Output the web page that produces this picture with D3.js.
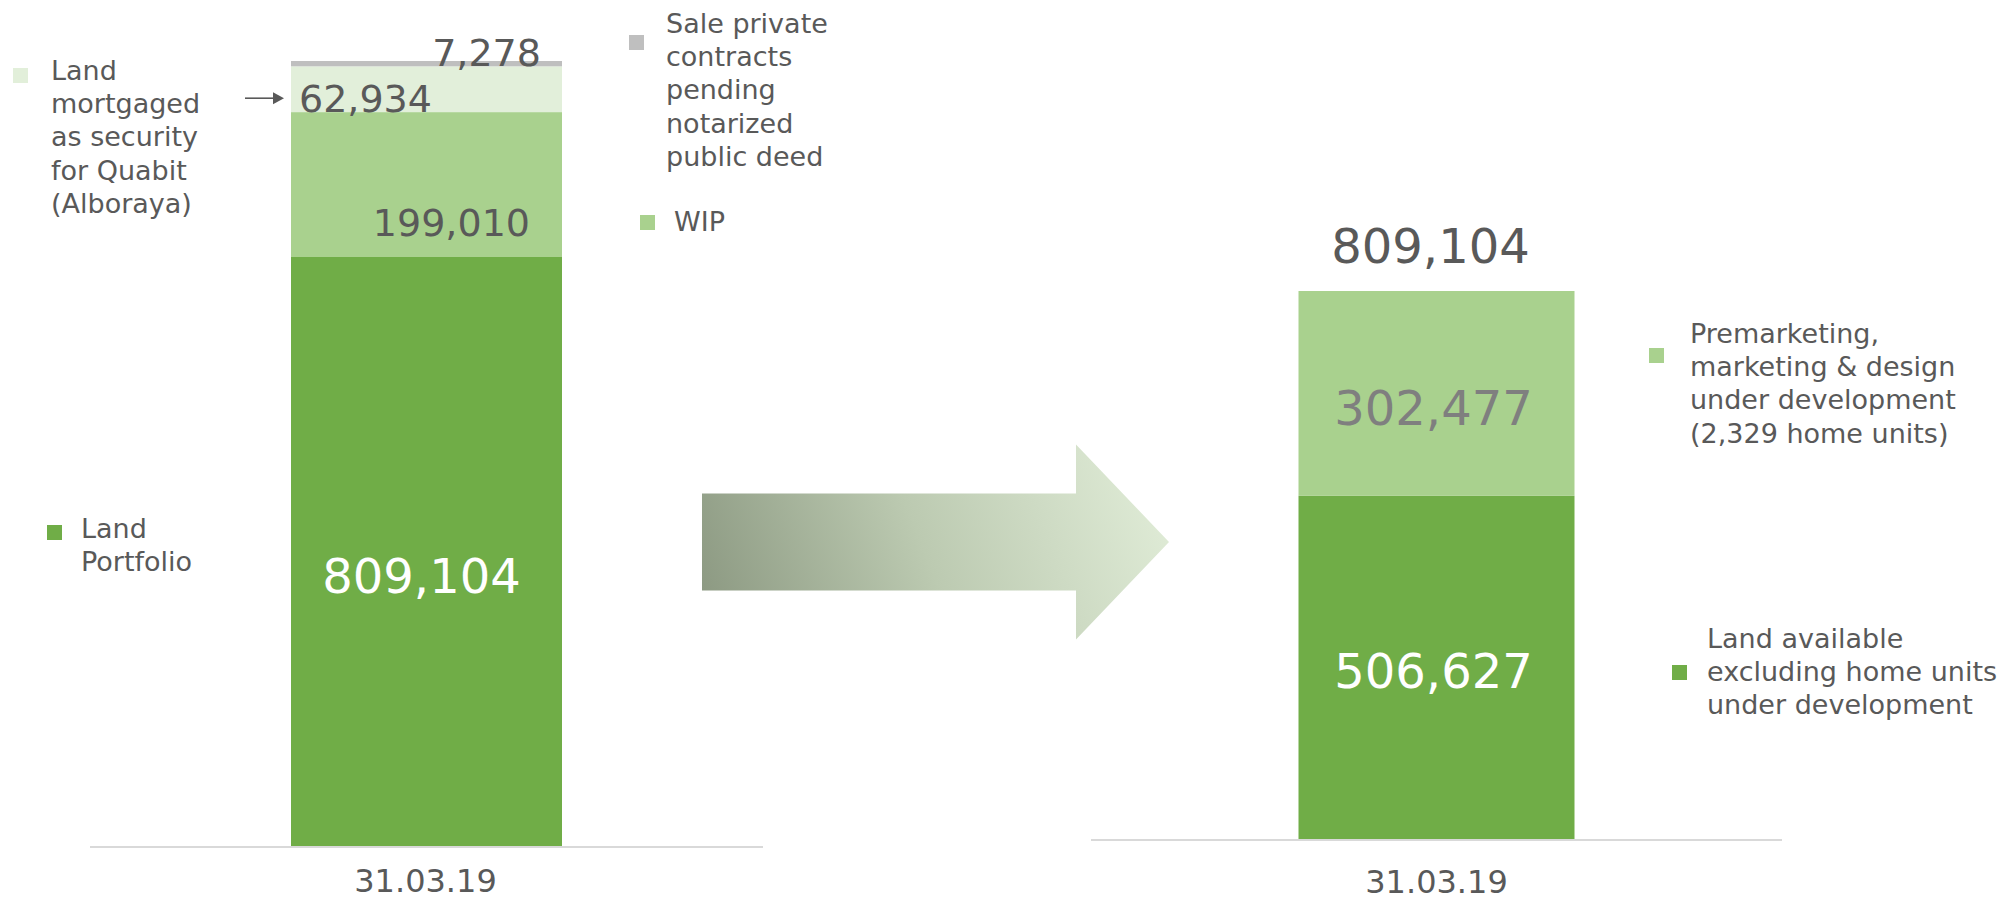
<!DOCTYPE html>
<html>
<head>
<meta charset="utf-8">
<script src="https://cdn.jsdelivr.net/npm/d3@7"></script>
<style>
html,body{margin:0;padding:0;background:#fff;}
svg{display:block;font-family:'DejaVu Sans',Verdana,sans-serif;}
</style>
</head>
<body>
<svg id="chart" width="2013" height="901"></svg>
<script>
(function(){
// left stack: 31.03.19 land bank split
const leftCats=['31.03.19'];
const leftKeys=['portfolio','wip','mortgaged','sale'];
const leftVals=[809104,199010,62934,7278];
const leftLegend=[
  ['Land','Portfolio'],
  ['WIP'],
  ['Land','mortgaged','as security','for Quabit','(Alboraya)'],
  ['Sale private','contracts','pending','notarized','public deed']
];
// right stack: portfolio split by development status
const rightCats=['31.03.19'];
const rightKeys=['available','premarketing'];
const rightVals=[506627,302477];
const rightLegend=[
  ['Land available','excluding home units','under development'],
  ['Premarketing,','marketing & design','under development','(2,329 home units)']
];

const colors={portfolio:'#70ad47',wip:'#a9d18e',mortgaged:'#e2efda',sale:'#bfbfbf',available:'#70ad47',premarketing:'#a9d18e'};
const TXT='#595959';
const fmt=d3.format(',');
const svg=d3.select('#chart');

function stack(keys,vals){
  let acc=0;
  return keys.map((k,i)=>{const d={key:k,v:vals[i],y0:acc,y1:acc+vals[i]};acc+=vals[i];return d;});
}

function drawPanel(o){
  const x=d3.scaleBand().domain(o.cats).range(o.xr).paddingInner(0).paddingOuter(o.pad);
  const total=d3.sum(o.vals);
  const y=d3.scaleLinear().domain([0,total]).range(o.yr);
  const g=svg.append('g');
  const segs=stack(o.keys,o.vals);
  g.selectAll('rect').data(segs).enter().append('rect')
    .attr('x',x(o.cats[0])).attr('width',x.bandwidth())
    .attr('y',d=>y(d.y1)).attr('height',d=>y(d.y0)-y(d.y1))
    .attr('fill',d=>colors[d.key]);
  // baseline
  g.append('line').attr('x1',o.xr[0]).attr('x2',o.xr[1])
    .attr('y1',y(0)+1).attr('y2',y(0)+1).attr('stroke','#d9d9d9').attr('stroke-width',2);
  // category label
  g.append('text').attr('x',x(o.cats[0])+x.bandwidth()/2+o.catDx).attr('y',y(0)+o.catDy)
    .attr('text-anchor','middle').attr('font-size',32).attr('fill',TXT).text(o.cats[0]);
  return {x,y,g,segs,total};
}

// ---- left panel
const L=drawPanel({cats:leftCats,keys:leftKeys,vals:leftVals,xr:[90,763],pad:0.7417,yr:[846,61],catDx:-1,catDy:46});
const lx0=L.x(leftCats[0]),lw=L.x.bandwidth();
const lLab=[
  {k:'portfolio',x:lx0+lw/2-5,dy:42,anchor:'middle',size:48,fill:'#fff'},
  {k:'wip',x:lx0+lw-32,dy:51,anchor:'end',size:38,fill:TXT},
  {k:'mortgaged',x:lx0+8,dy:23,anchor:'start',size:38,fill:TXT},
  {k:'sale',x:lx0+lw-21,dy:2,anchor:'end',size:38,fill:TXT}
];
lLab.forEach(l=>{
  const s=L.segs.find(d=>d.key===l.k);
  L.g.append('text').attr('x',l.x).attr('y',L.y((s.y0+s.y1)/2)+l.dy)
    .attr('text-anchor',l.anchor).attr('font-size',l.size).attr('fill',l.fill).text(fmt(s.v));
});
// pointer arrow to the mortgaged segment
const mSeg=L.segs.find(d=>d.key==='mortgaged');
const ay=L.y((mSeg.y0+mSeg.y1)/2)+9;
L.g.append('line').attr('x1',lx0-46).attr('x2',lx0-16).attr('y1',ay).attr('y2',ay).attr('stroke',TXT).attr('stroke-width',1.6);
L.g.append('path').attr('d',`M${lx0-7},${ay} L${lx0-18},${ay-6} L${lx0-18},${ay+6} Z`).attr('fill',TXT);

// ---- right panel
const R=drawPanel({cats:rightCats,keys:rightKeys,vals:rightVals,xr:[1091,1782],pad:0.7518,yr:[839,291],catDx:0,catDy:54});
const rx0=R.x(rightCats[0]),rw=R.x.bandwidth();
const rLab=[
  {k:'available',dy:21,fill:'#fff'},
  {k:'premarketing',dy:32,fill:'#7f7f7f'}
];
rLab.forEach(l=>{
  const s=R.segs.find(d=>d.key===l.k);
  R.g.append('text').attr('x',rx0+rw/2-3).attr('y',R.y((s.y0+s.y1)/2)+l.dy)
    .attr('text-anchor','middle').attr('font-size',48).attr('fill',l.fill).text(fmt(s.v));
});
R.g.append('text').attr('x',rx0+rw/2-6).attr('y',R.y(R.total)-28)
  .attr('text-anchor','middle').attr('font-size',48).attr('fill',TXT).text(fmt(R.total));

// ---- legends
function legend(lines,color,sq,tx,ty){
  const g=svg.append('g');
  g.append('rect').attr('x',sq[0]).attr('y',sq[1]).attr('width',15).attr('height',15).attr('fill',color);
  const t=g.append('text').attr('font-size',27).attr('fill',TXT);
  lines.forEach((s,i)=>t.append('tspan').attr('x',tx).attr('y',ty+i*33.2).text(s));
}
legend(leftLegend[2],colors.mortgaged,[13,68],51,80);
legend(leftLegend[0],colors.portfolio,[47,525],81,538);
legend(leftLegend[3],colors.sale,[629,35],666,33);
legend(leftLegend[1],colors.wip,[640,215],674,231);
legend(rightLegend[1],colors.premarketing,[1649,348],1690,343);
legend(rightLegend[0],colors.available,[1672,665],1707,648);

// ---- transition arrow
const defs=svg.append('defs');
const grad=defs.append('linearGradient').attr('id','arrowGrad').attr('gradientUnits','userSpaceOnUse')
  .attr('x1',702).attr('y1',640).attr('x2',1150).attr('y2',470);
grad.append('stop').attr('offset',0).attr('stop-color','#89967f');
grad.append('stop').attr('offset',0.5).attr('stop-color','#bccab1');
grad.append('stop').attr('offset',1).attr('stop-color','#dfebd6');
const cy=542,bh=48.5,hh=97.5,ax0=702,ahx=1076,atx=1169;
const pts=[[ax0,cy-bh],[ahx,cy-bh],[ahx,cy-hh],[atx,cy],[ahx,cy+hh],[ahx,cy+bh],[ax0,cy+bh]];
svg.append('path').attr('d',d3.line()(pts)+'Z').attr('fill','url(#arrowGrad)');
})();
</script>
</body>
</html>
